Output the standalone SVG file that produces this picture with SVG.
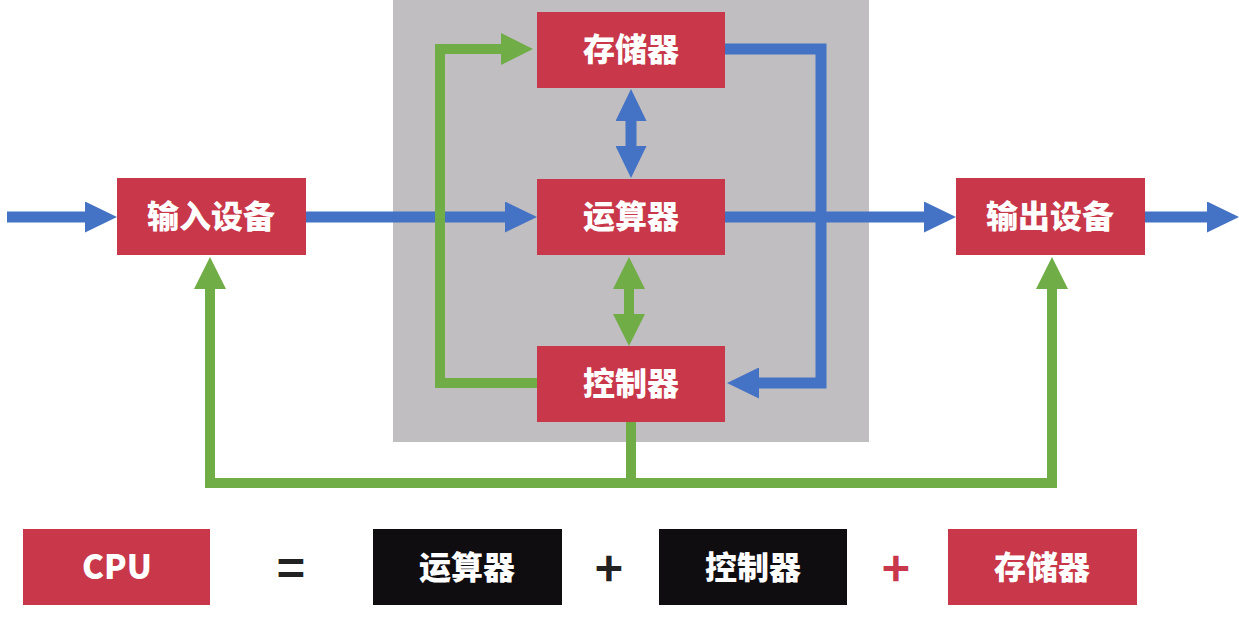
<svg xmlns="http://www.w3.org/2000/svg" width="1239" height="622" viewBox="0 0 1239 622">
<style>
.red{fill:#C8374A}
.blk{fill:#0F0D10}
.lbl{font-family:"Noto Sans CJK SC","Liberation Sans",sans-serif;font-weight:900;font-size:32px;fill:#fff;text-anchor:middle}
.cpu{font-size:33px}
.op{font-family:"Noto Sans CJK SC","Liberation Sans",sans-serif;font-weight:bold;font-size:48px;text-anchor:middle}
.b{fill:none;stroke:#4472C4;stroke-width:11;stroke-linejoin:miter}
.g{fill:none;stroke:#70AD47;stroke-width:10;stroke-linejoin:miter}
</style>
<defs>
<marker id="hb" markerUnits="userSpaceOnUse" viewBox="0 0 32 31" refX="1" refY="15.5" markerWidth="32" markerHeight="31" orient="auto-start-reverse"><path d="M0,0 L32,15.5 L0,31 z" fill="#4472C4"/></marker>
<marker id="hg" markerUnits="userSpaceOnUse" viewBox="0 0 32 32" refX="1" refY="16" markerWidth="32" markerHeight="32" orient="auto-start-reverse"><path d="M0,0 L32,16 L0,32 z" fill="#70AD47"/></marker>
</defs>
<rect width="1239" height="622" fill="#fff"/>
<rect id="cpu-area" x="393" y="0" width="476" height="442" fill="#C0BEC1"/>
<g id="connectors">
<path class="b" d="M7,217 H86" marker-end="url(#hb)"/>
<path class="b" d="M306,217 H506" marker-end="url(#hb)"/>
<path class="b" d="M725,217 H925" marker-end="url(#hb)"/>
<path class="b" d="M1145,217 H1208" marker-end="url(#hb)"/>
<path class="b" d="M725,49 H821 V383 H758" marker-end="url(#hb)"/>
<path class="b" d="M631,120 V147" marker-start="url(#hb)" marker-end="url(#hb)"/>
<path class="g" d="M537,383 H440 V49 H502" marker-end="url(#hg)"/>
<path class="g" d="M629,288 V315" marker-start="url(#hg)" marker-end="url(#hg)"/>
<path class="g" d="M631,422 V483"/>
<path class="g" d="M210,288 V483 H1052 V288" marker-start="url(#hg)" marker-end="url(#hg)"/>
</g>
<g id="memory"><rect class="red" x="537" y="12" width="188" height="76"/><text class="lbl" x="631" y="61">存储器</text></g>
<g id="alu"><rect class="red" x="537" y="179" width="188" height="76"/><text class="lbl" x="631" y="228">运算器</text></g>
<g id="control"><rect class="red" x="537" y="346" width="188" height="76"/><text class="lbl" x="631" y="395">控制器</text></g>
<g id="input"><rect class="red" x="117" y="178" width="189" height="77"/><text class="lbl" x="211" y="228">输入设备</text></g>
<g id="output"><rect class="red" x="956" y="178" width="189" height="77"/><text class="lbl" x="1050" y="228">输出设备</text></g>
<g id="eq-cpu"><rect class="red" x="23" y="529" width="187" height="76"/><text class="lbl cpu" x="117" y="579">CPU</text></g>
<text class="op" x="291" y="586" fill="#222">=</text>
<g id="eq-alu"><rect class="blk" x="373" y="529" width="189" height="76"/><text class="lbl" x="467" y="579">运算器</text></g>
<text class="op" x="609" y="586" fill="#222">+</text>
<g id="eq-control"><rect class="blk" x="659" y="529" width="188" height="76"/><text class="lbl" x="753" y="579">控制器</text></g>
<text class="op" x="896" y="586" fill="#C8374A">+</text>
<g id="eq-memory"><rect class="red" x="948" y="529" width="189" height="76"/><text class="lbl" x="1042" y="579">存储器</text></g>
</svg>
